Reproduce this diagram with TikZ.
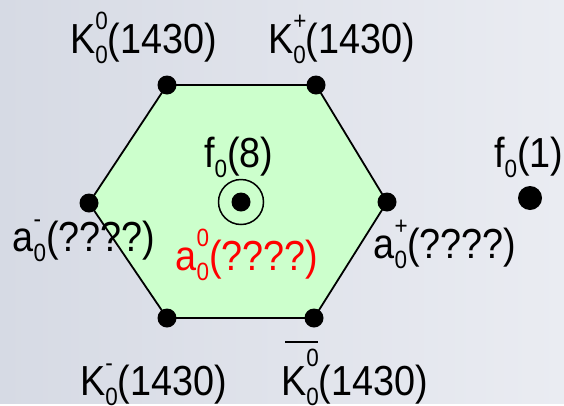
\documentclass[tikz,border=0pt]{standalone}
\usepackage{fontspec}
\setmainfont[FakeStretch=0.9]{Liberation Sans}
\usetikzlibrary{positioning}
\definecolor{bgLeft}{HTML}{D6DAE4}
\definecolor{bgRight}{HTML}{EAECF2}
\definecolor{octetFill}{HTML}{CCFFCC}
\newcommand{\labelfont}{\fontsize{42}{46}\selectfont}
\newcommand{\idxfont}{\fontsize{25}{25}\selectfont}
\newcommand{\ud}[3][24pt]{\makebox[0pt][l]{\raisebox{#1}{\idxfont #2}}\raisebox{-10.5pt}{\idxfont #3}}

\begin{document}
\begin{tikzpicture}[x=1pt,y=-1pt,
    meson/.style={circle,fill=black,inner sep=0pt,minimum size=19pt},
    lbl/.style={anchor=base west,inner sep=0pt,font=\labelfont}]
  % background
  \fill[left color=bgLeft,right color=bgRight] (0,0) rectangle (564,403);
  % corners of the octet
  \coordinate (ktl) at (167,85);
  \coordinate (ktr) at (316,85);
  \coordinate (ar) at (387,202);
  \coordinate (kbr) at (314,318);
  \coordinate (kbl) at (167,318);
  \coordinate (al) at (89,203);
  \coordinate (mid) at (241,202);
  \draw[line width=1.8pt,fill=octetFill] (ktl) -- (ktr) -- (ar) -- (kbr) -- (kbl) -- (al) -- cycle;
  \foreach \p in {ktl,ktr,ar,kbr,kbl,al,mid}
    \node[meson] (dot-\p) at (\p) {};
  \node[draw,circle,line width=1.5pt,inner sep=0pt,minimum size=45pt] (ring) at (mid) {};
  \node[meson,minimum size=24pt] (single) at (530,198) {};
  % labels
  \node[lbl] (lktl) at (70,53) {K\ud{0}{0}(1430)};
  \node[lbl] (lktr) at (268,53) {K\ud{+}{0}(1430)};
  \node[lbl] (lf8) at (204,167) {f\ud{}{0}(8)};
  \node[lbl,text=red] (la0) at (175.5,270) {a\ud{0}{0}(????)};
  \node[lbl] (lal) at (12.5,251) {a\ud{-}{0}(????)};
  \node[lbl] (lar) at (373.5,258) {a\ud{+}{0}(????)};
  \node[lbl] (lf1) at (494,167) {f\ud{}{0}(1)};
  \node[lbl] (lkbl) at (80,395) {K\ud{-}{0}(1430)};
  \node[lbl] (lkbr) at (281,395) {\rlap{\hspace{4pt}\rule[52pt]{33pt}{2pt}}K\ud[29pt]{0}{0}(1430)};
\end{tikzpicture}
\end{document}
